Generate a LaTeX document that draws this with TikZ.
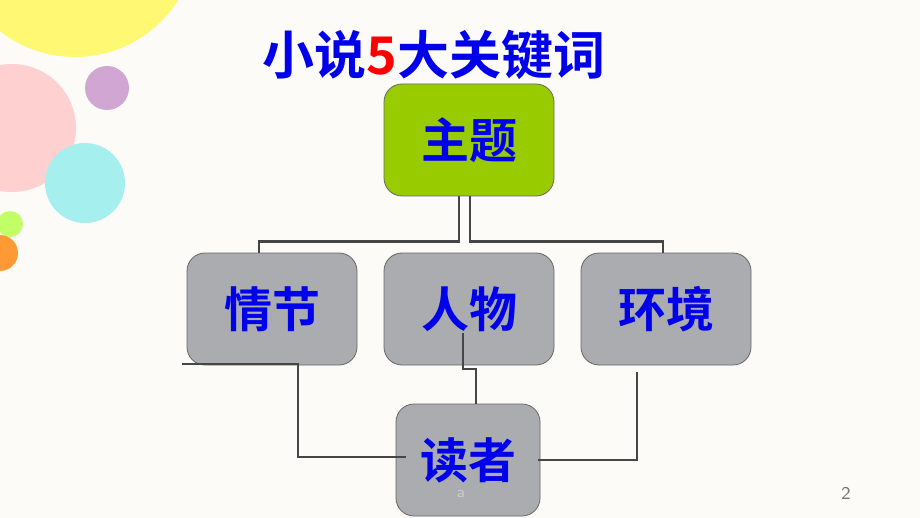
\documentclass[tikz,border=0pt]{standalone}
\usepackage{fontspec}
\newfontfamily\cjk{Noto Sans CJK SC Bold}
\usetikzlibrary{positioning}
\definecolor{bg}{RGB}{252,251,248}
\definecolor{boxgray}{RGB}{170,172,175}
\definecolor{themegreen}{RGB}{153,204,0}
\definecolor{txtblue}{RGB}{0,0,235}
\definecolor{linegray}{RGB}{70,70,70}
\begin{document}
\begin{tikzpicture}
    [x=0.5pt, y=-0.5pt,
     keybox/.style={draw=black!60, fill=boxgray, rounded corners=9pt,
                    minimum width=85pt, minimum height=56pt, inner sep=0,
                    font=\cjk\fontsize{24}{28}\selectfont, text=txtblue},
     link/.style={draw=linegray, line width=1.2pt}]

    \fill[bg] (0,0) rectangle (920,518);
    \useasboundingbox (0,0) rectangle (920,518);

    % decoration on the left
    \begin{scope}
      \clip (0,0) rectangle (920,518);
      \fill[yellow!55!white] (75,-65) circle (122);
      \fill[red!20!white, opacity=0.9] (12,128) circle (64);
      \fill[violet!35!white] (107,88) circle (22);
      \fill[teal!35!cyan!35!white] (85,183) circle (40);
      \fill[green!40!yellow!60!white] (10,224) circle (13);
      \fill[orange!80!white] (0,253) circle (18);
    \end{scope}

    \node (title) at (434,55) {\cjk\fontsize{26}{30}\selectfont
      \textcolor{txtblue}{小说}\textcolor{red}{5}\textcolor{txtblue}{大关键词}};

    \node (theme) [keybox, fill=themegreen] at (469,140) {主题};
    \node (plot) [keybox] at (272,309) {情节};
    \node (figure) [keybox] at (469,309) {人物};
    \node (setting) [keybox] at (666,309) {环境};
    \node (reader) [keybox, minimum width=72pt] at (468,460) {读者};

    \node (mark) [text=black!20, font=\sffamily\fontsize{8}{9}\selectfont]
      at (461,494) {a};
    \node (page) [text=black!55, font=\sffamily\fontsize{9}{10}\selectfont]
      at (846,493) {2};

    % tree under the theme
    \draw[link] ([xshift=-5]theme.south) -- ++(0,45) -| ([xshift=-6.5]plot.north);
    \draw[link] ([xshift=0.5]theme.south) -- ++(0,45) -| ([xshift=-1.5]setting.north);

    % links to the reader
    \coordinate (plotend) at (182,364);
    \draw[link] (plotend) -- (298,364) |- ([xshift=5,yshift=1.5]reader.west);
    \coordinate (figtop) at (463,333);
    \draw[link] (figtop) -- (463,369) -- (476,369) -- (reader.north -| 476,0);
    \coordinate (setend) at (637,372);
    \draw[link] (setend) |- ([xshift=-1]reader.east);
\end{tikzpicture}
\end{document}
